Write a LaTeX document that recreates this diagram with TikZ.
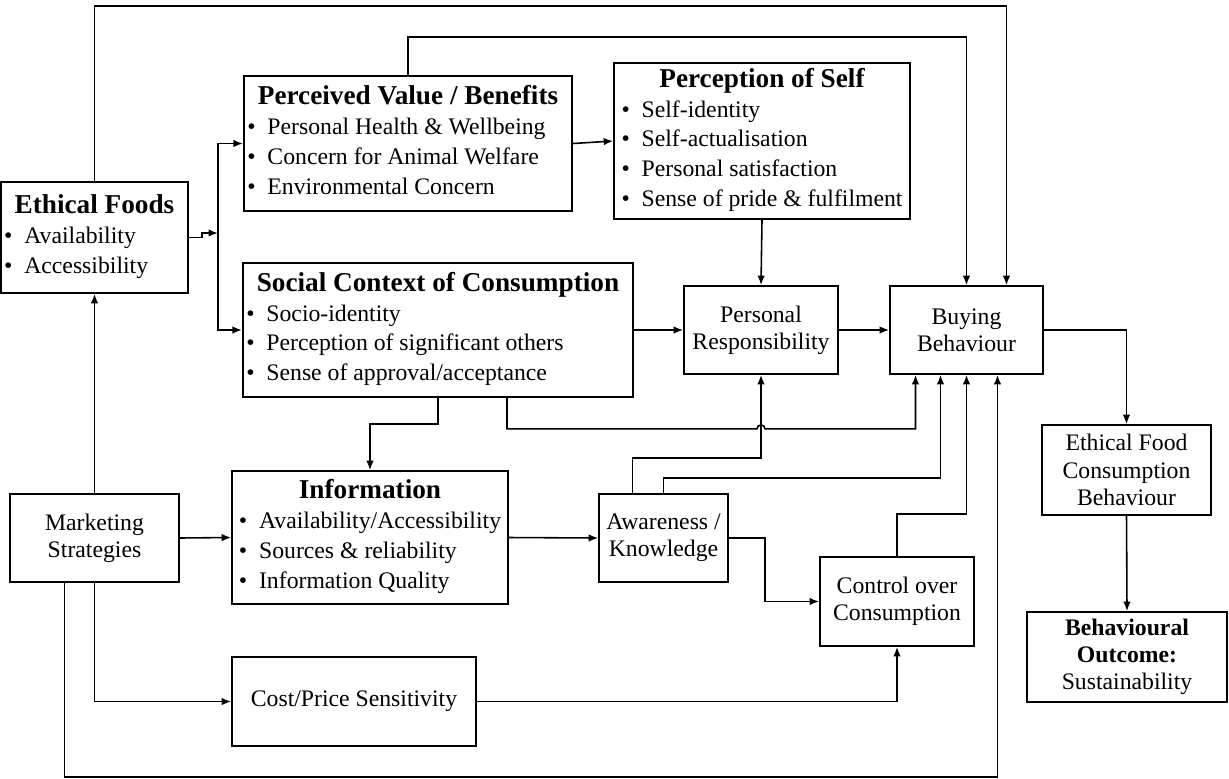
\documentclass[tikz,border=0pt]{standalone}
\usepackage{fontspec}
\setmainfont{Liberation Serif}
\usetikzlibrary{arrows.meta,calc}

\newcommand{\hd}[1]{\multicolumn{1}{c}{\fontsize{15.5}{17}\selectfont\bfseries #1}}
\newcommand{\itm}{\textbullet\hspace{0.5em}}

\begin{document}
\begin{tikzpicture}[
  x=0.02cm, y=-0.02cm,
  box/.style={draw=black, line width=1pt, fill=white, inner sep=2pt,
    align=center, font=\fontsize{13.5}{15.5}\selectfont},
  listbox/.style={box, font=\fontsize{13.5}{17}\selectfont},
  arrow/.style={-{Latex[length=1.9mm,width=1.5mm]}, line width=0.9pt}
]
\useasboundingbox (0,0) rectangle (1229,778);

% Left column: product and marketing
\node[listbox, minimum width=3.38cm, minimum height=2.22cm] (ef) at (94.5,237.5)
  {\begin{tabular}{@{}l@{}}\hd{Ethical Foods}\\ \itm Availability\\ \itm Accessibility\end{tabular}};
\node[box, minimum width=3.38cm, minimum height=1.76cm] (ms) at (94.5,538) {Marketing\\Strategies};

% Middle column: values, social context, information, price
\node[listbox, minimum width=6.44cm, minimum height=2.7cm] (pv) at (408,143.5)
  {\begin{tabular}{@{}l@{}}\hd{Perceived Value / Benefits}\\ \itm Personal Health \& Wellbeing\\
   \itm Concern for Animal Welfare\\ \itm Environmental Concern\end{tabular}};
\node[listbox, minimum width=7.64cm, minimum height=2.68cm] (sc) at (438,330)
  {\begin{tabular}{@{}l@{}}\hd{Social Context of Consumption}\\ \itm Socio-identity\\
   \itm Perception of significant others\\ \itm Sense of approval/acceptance\end{tabular}};
\node[listbox, minimum width=5.52cm, minimum height=2.66cm] (info) at (370,537.5)
  {\begin{tabular}{@{}l@{}}\hd{Information}\\ \itm Availability/Accessibility\\
   \itm Sources \& reliability\\ \itm Information Quality\end{tabular}};
\node[box, minimum width=4.88cm, minimum height=1.78cm] (cost) at (354,701.5) {Cost/Price Sensitivity};

% Right-middle: self, responsibility, awareness, control
\node[listbox, minimum width=5.92cm, minimum height=3.12cm] (pos) at (762,141)
  {\begin{tabular}{@{}l@{}}\hd{Perception of Self}\\ \itm Self-identity\\ \itm Self-actualisation\\
   \itm Personal satisfaction\\ \itm Sense of pride \& fulfilment\end{tabular}};
\node[box, minimum width=3.08cm, minimum height=1.76cm] (pr) at (761,330) {Personal\\Responsibility};
\node[box, minimum width=2.58cm, minimum height=1.76cm] (aw) at (663.5,538) {Awareness /\\Knowledge};
\node[box, minimum width=3.08cm, minimum height=1.78cm] (ctl) at (897,601.5) {Control over\\Consumption};

% Outcome chain
\node[box, minimum width=3.06cm, minimum height=1.76cm] (buy) at (966.5,330) {Buying\\Behaviour};
\node[box, minimum width=3.38cm, minimum height=1.8cm] (efc) at (1126.5,470) {Ethical Food\\Consumption\\Behaviour};
\node[box, minimum width=4.0cm, minimum height=1.8cm] (bo) at (1127,657)
  {\textbf{Behavioural}\\\textbf{Outcome:}\\Sustainability};

% Ethical foods feed both value and social context
\coordinate (bus) at (218,233);
\draw[arrow] (ef.east) -- ++(13,0) |- (bus);
\draw[arrow] (bus) |- (pv.west);
\draw[arrow] (bus) |- (sc.west);

% Main flow
\draw[arrow] (pv.east) -- (pos.west);
\draw[arrow] (pos.south) -- (pr.north);
\draw[arrow] (sc.east) -- (pr.west);
\draw[arrow] (pr.east) -- (buy.west);
\draw[arrow] (buy.east) -| (efc.north);
\draw[arrow] (efc.south) -- (bo.north);

% Long loops over the top
\draw[arrow] (ef.north) -- ++(0,-175) -| ($(buy.north)+(40,0)$);
\draw[arrow] (pv.north) -- ++(0,-38) -| (buy.north);

% Social context down to information and buying (hop over the awareness line)
\draw[arrow] (sc.south) -- ++(0,26) -| (info.north);
\draw[arrow] ($(sc.south)+(69,0)$) |- ($(pr.south)+(-4,54)$)
  arc[start angle=180, end angle=360, radius=4] -| ($(buy.south)+(-51,0)$);

% Marketing strategies
\draw[arrow] (ms.north) -- (ef.south);
\draw[arrow] (ms.east) -- (info.west);
\draw[arrow] (ms.south) |- (cost.west);
\draw[arrow] ($(ms.south)+(-30,0)$) -- ++(0,194) -| ($(buy.south)+(31,0)$);

% Information, awareness and control
\draw[arrow] (info.east) -- (aw.west);
\draw[arrow] ($(aw.north)+(-31,0)$) -- ++(0,-35) -| (pr.south);
\draw[arrow] (aw.north) -- ++(0,-15) -| ($(buy.south)+(-26,0)$);
\draw[arrow] (aw.east) -- ++(36,0) |- (ctl.west);
\draw[arrow] (cost.east) -| (ctl.south);
\draw[arrow] (ctl.north) -- ++(0,-42) -| (buy.south);

\end{tikzpicture}
\end{document}
